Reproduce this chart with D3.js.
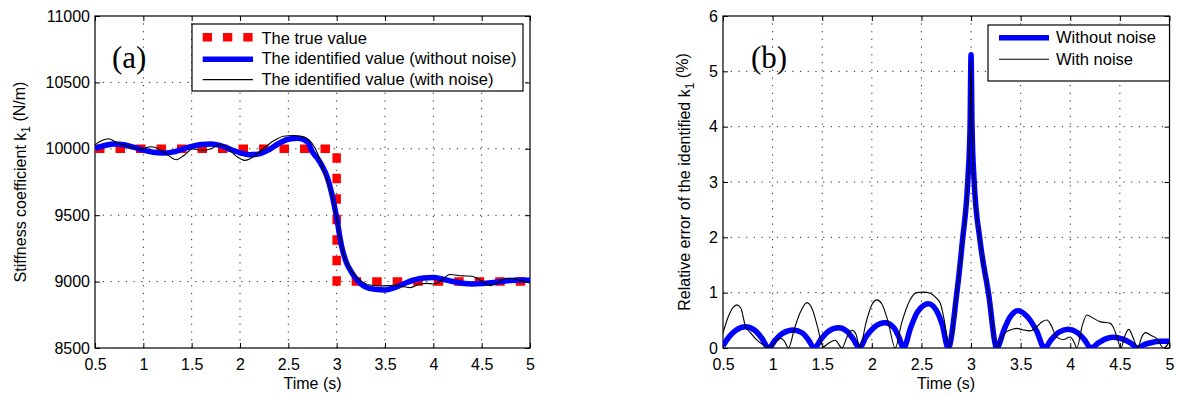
<!DOCTYPE html>
<html>
<head>
<meta charset="utf-8">
<script src="https://cdn.jsdelivr.net/npm/d3@7/dist/d3.min.js"></script>
<style>
  html, body { margin: 0; padding: 0; background: #fff; }
  svg text { font-family: "Liberation Sans", Arial, Helvetica, sans-serif; fill: #000; }
</style>
</head>
<body>
<svg id="chart" width="1178" height="396"></svg>
<script>
// ---- data ----
const timeTicks = [0.5, 1, 1.5, 2, 2.5, 3, 3.5, 4, 4.5, 5];
const stiffTicks = [8500, 9000, 9500, 10000, 10500, 11000];
const errTicks = [0, 1, 2, 3, 4, 5, 6];

// true stiffness k1 (N/m): step change at t = 3 s
const trueTime = [0.5, 3, 3, 5];
const trueK = [10000, 10000, 9000, 9000];

// identified k1 without noise
const idTime = [0.5, 0.6, 0.7, 0.8, 0.9, 1.0, 1.1, 1.2, 1.3, 1.4, 1.5, 1.6, 1.7, 1.8, 1.9,
  2.0, 2.1, 2.2, 2.3, 2.4, 2.5, 2.6, 2.7, 2.75, 2.8, 2.85, 2.9, 2.95, 3.0, 3.05, 3.1, 3.15,
  3.2, 3.3, 3.4, 3.5, 3.6, 3.7, 3.8, 3.9, 4.0, 4.1, 4.2, 4.3, 4.4, 4.5, 4.6, 4.7, 4.8, 4.9, 5.0];
const idK = [10003, 10025, 10037, 10031, 10012, 9990, 9974, 9968, 9975, 9996, 10018, 10033, 10036, 10024, 9996,
  9970, 9955, 9962, 9993, 10040, 10072, 10080, 10050, 9975, 9930, 9870, 9790, 9660, 9480, 9270, 9145, 9075,
  9022, 8960, 8942, 8937, 8955, 8985, 9012, 9028, 9030, 9018, 9001, 8988, 8982, 8985, 8992, 9001, 9009, 9012, 9011];

// identified k1 with noise
const noisyTime = [0.5, 0.55, 0.64, 0.72, 0.8, 0.9, 0.97, 1.08, 1.16, 1.25, 1.34, 1.42, 1.51, 1.62, 1.7,
  1.8, 1.88, 1.96, 2.05, 2.15, 2.24, 2.35, 2.45, 2.55, 2.62, 2.69, 2.78, 2.86, 2.93, 2.97, 3.02,
  3.07, 3.17, 3.26, 3.36, 3.46, 3.6, 3.76, 3.86, 3.93, 4.0, 4.07, 4.17, 4.3, 4.4, 4.47, 4.51,
  4.59, 4.68, 4.76, 4.87, 4.94, 5.0];
const noisyK = [10030, 10055, 10076, 10050, 10028, 10008, 9998, 10016, 9999, 9955, 9918, 9950, 9998, 9988, 10000,
  10032, 9999, 9945, 9913, 9945, 10000, 10060, 10095, 10100, 10095, 10080, 10000, 9850, 9700, 9590, 9390,
  9215, 9062, 9000, 8973, 8968, 8972, 8955, 8982, 8987, 8982, 9000, 9054, 9043, 9040, 9018, 9000,
  8970, 9000, 9025, 9016, 9000, 8990];

// relative error of identified k1 (%), without noise
const errTime = [0.5, 0.56, 0.63, 0.725, 0.82, 0.89, 0.96, 1.03, 1.1, 1.21, 1.3, 1.36, 1.42,
  1.49, 1.56, 1.665, 1.75, 1.81, 1.876, 1.94, 2.02, 2.135, 2.22, 2.27, 2.32,
  2.39, 2.46, 2.57, 2.65, 2.71, 2.77, 2.857, 2.914, 2.968, 2.99, 3.0, 3.01, 3.03, 3.09, 3.175, 3.26,
  3.33, 3.39, 3.47, 3.57, 3.66, 3.74, 3.81, 3.88, 3.98, 4.07, 4.14, 4.21,
  4.28, 4.35, 4.43, 4.53, 4.61, 4.68, 4.75, 4.82, 4.9, 5.0];
const errK = [0.04, 0.2, 0.32, 0.385, 0.32, 0.18, 0, 0.15, 0.265, 0.325, 0.27, 0.15, 0,
  0.165, 0.3, 0.367, 0.3, 0.17, 0, 0.2, 0.37, 0.457, 0.37, 0.21, 0,
  0.36, 0.65, 0.8, 0.68, 0.42, 0, 1.0, 1.95, 3.05, 4.0, 5.3, 4.0, 3.05, 1.95, 1.0, 0,
  0.32, 0.55, 0.675, 0.56, 0.31, 0, 0.155, 0.28, 0.337, 0.28, 0.155, 0,
  0.088, 0.16, 0.193, 0.16, 0.088, 0, 0.065, 0.1, 0.12, 0.12];

// relative error of identified k1 (%), with noise
const errNoisyTime = [0.5, 0.55, 0.6, 0.64, 0.68, 0.725, 0.78, 0.84, 0.92, 0.97, 1.02, 1.077, 1.12, 1.16,
  1.22, 1.28, 1.346, 1.4, 1.45, 1.51, 1.56, 1.63, 1.7, 1.75, 1.8, 1.84, 1.88, 1.94, 2.0, 2.05, 2.1,
  2.16, 2.236, 2.3, 2.38, 2.45, 2.52, 2.59, 2.64, 2.69, 2.73, 2.78, 2.857, 2.914, 2.968, 2.99, 3.0,
  3.01, 3.03, 3.09, 3.175, 3.26, 3.31, 3.36, 3.42, 3.46, 3.52, 3.595, 3.66, 3.72, 3.764, 3.81, 3.86,
  3.93, 4.0, 4.04, 4.066, 4.12, 4.167, 4.23, 4.3, 4.36, 4.4, 4.44, 4.47, 4.51, 4.55, 4.59, 4.63,
  4.68, 4.72, 4.76, 4.82, 4.87, 4.94, 5.0];
const errNoisyK = [0.27, 0.55, 0.73, 0.78, 0.72, 0.4, 0.27, 0.145, 0.04, 0, 0.1, 0.175, 0.12, 0,
  0.35, 0.65, 0.82, 0.7, 0.4, 0.02, 0.08, 0.14, 0, 0.2, 0.32, 0.25, 0, 0.45, 0.78, 0.87, 0.8,
  0.5, 0, 0.45, 0.85, 1.0, 1.01, 0.99, 0.92, 0.81, 0.5, 0, 1.0, 1.95, 3.0, 4.0, 5.2,
  4.0, 3.0, 1.95, 1.0, 0, 0.2, 0.295, 0.34, 0.355, 0.33, 0.31, 0.38, 0.48, 0.506, 0.4, 0.2,
  0.15, 0.2, 0.1, 0, 0.4, 0.597, 0.54, 0.477, 0.46, 0.45, 0.35, 0.2, 0, 0.22, 0.337, 0.2,
  0, 0.2, 0.277, 0.22, 0.175, 0, 0.115];

// ---- drawing ----
const svg = d3.select("#chart");
const fmt = d => String(d);

function panel(opts) {
  const { left, right, top, bottom, yDomain, yTicks, id } = opts;
  const x = d3.scaleLinear().domain([0.5, 5]).range([left, right]);
  const y = d3.scaleLinear().domain(yDomain).range([bottom, top]);
  const g = svg.append("g");

  svg.append("clipPath").attr("id", id)
    .append("rect").attr("x", left).attr("y", top)
    .attr("width", right - left).attr("height", bottom - top);

  // dotted grid
  const grid = g.append("g").attr("stroke", "#222").attr("stroke-width", 1)
    .attr("stroke-dasharray", "1.2,6.5");
  timeTicks.slice(1, -1).forEach(t => {
    grid.append("line").attr("x1", x(t)).attr("x2", x(t)).attr("y1", bottom).attr("y2", top);
  });
  yTicks.slice(1, -1).forEach(v => {
    grid.append("line").attr("x1", left).attr("x2", right).attr("y1", y(v)).attr("y2", y(v));
  });

  // axes with inward ticks, mirrored on top and right
  const fs = "16px";
  const ax = g.append("g").attr("transform", `translate(0,${bottom})`)
    .call(d3.axisBottom(x).tickValues(timeTicks).tickFormat(fmt).tickSize(-5).tickSizeOuter(0).tickPadding(11));
  const ay = g.append("g").attr("transform", `translate(${left},0)`)
    .call(d3.axisLeft(y).tickValues(yTicks).tickFormat(fmt).tickSize(-5).tickSizeOuter(0).tickPadding(5));
  const at = g.append("g").attr("transform", `translate(0,${top})`)
    .call(d3.axisTop(x).tickValues(timeTicks).tickFormat("").tickSize(-5).tickSizeOuter(0));
  const ar = g.append("g").attr("transform", `translate(${right},0)`)
    .call(d3.axisRight(y).tickValues(yTicks).tickFormat("").tickSize(-5).tickSizeOuter(0));
  [ax, ay, at, ar].forEach(a => {
    a.select(".domain").remove();
    a.selectAll("line").attr("stroke", "#000");
    a.selectAll("text").attr("font-size", fs).attr("fill", "#000")
      .style("font-family", '"Liberation Sans", Arial, sans-serif');
  });

  g.append("rect").attr("x", left).attr("y", top)
    .attr("width", right - left).attr("height", bottom - top)
    .attr("fill", "none").attr("stroke", "#000").attr("stroke-width", 1.2);

  const plot = svg.append("g").attr("clip-path", `url(#${id})`);
  return { x, y, g, plot };
}

function series(times, values) {
  return times.map((t, i) => [t, values[i]]);
}

// ===== panel (a): stiffness =====
const A = panel({ id: "clipA", left: 95, right: 530, top: 16, bottom: 348,
  yDomain: [8500, 11000], yTicks: stiffTicks });

const lineA = d3.line().x(d => A.x(d[0])).y(d => A.y(d[1]));
const smoothA = d3.line().x(d => A.x(d[0])).y(d => A.y(d[1])).curve(d3.curveMonotoneX);

A.plot.append("path").attr("d", lineA(series(trueTime, trueK)))
  .attr("fill", "none").attr("stroke", "#ff0000").attr("stroke-width", 8.5)
  .attr("stroke-dasharray", "9.5,11");
A.plot.append("path").attr("d", smoothA(series(idTime, idK)))
  .attr("fill", "none").attr("stroke", "#0000ff").attr("stroke-width", 5.5);
A.plot.append("path").attr("d", smoothA(series(noisyTime, noisyK)))
  .attr("fill", "none").attr("stroke", "#000").attr("stroke-width", 1.1);

// panel label
svg.append("text").attr("x", 112).attr("y", 68)
  .style("font-family", '"Liberation Serif", "DejaVu Serif", serif')
  .attr("font-size", "31px").text("(a)");

// axis titles
svg.append("text").attr("x", 312.5).attr("y", 389).attr("text-anchor", "middle")
  .attr("font-size", "16px").text("Time (s)");
const yla = svg.append("text").attr("transform", "translate(26,182) rotate(-90)")
  .attr("text-anchor", "middle").attr("font-size", "16px");
yla.append("tspan").text("Stiffness coefficient k");
yla.append("tspan").attr("dy", "0.35em").attr("font-size", "12px").text("1");
yla.append("tspan").attr("dy", "-0.35em").text(" (N/m)");

// legend (a)
const legA = svg.append("g");
legA.append("rect").attr("x", 192).attr("y", 24).attr("width", 331).attr("height", 67)
  .attr("fill", "#fff").attr("stroke", "#000").attr("stroke-width", 1.2);
legA.append("line").attr("x1", 202.7).attr("x2", 253).attr("y1", 37.3).attr("y2", 37.3)
  .attr("stroke", "#ff0000").attr("stroke-width", 8.5).attr("stroke-dasharray", "9.3,11");
legA.append("line").attr("x1", 202.7).attr("x2", 253).attr("y1", 59.2).attr("y2", 59.2)
  .attr("stroke", "#0000ff").attr("stroke-width", 5.5);
legA.append("line").attr("x1", 202.7).attr("x2", 253).attr("y1", 79.6).attr("y2", 79.6)
  .attr("stroke", "#000").attr("stroke-width", 1.1);
[["The true value", 43.6], ["The identified value (without noise)", 64.4], ["The identified value (with noise)", 84.8]]
  .forEach(([s, yy]) => legA.append("text").attr("x", 261.5).attr("y", yy).attr("font-size", "16.5px").text(s));

// ===== panel (b): relative error =====
const B = panel({ id: "clipB", left: 723, right: 1169.5, top: 16, bottom: 348,
  yDomain: [0, 6], yTicks: errTicks });

const smoothB = d3.line().x(d => B.x(d[0])).y(d => B.y(d[1])).curve(d3.curveMonotoneX);
B.plot.append("path").attr("d", smoothB(series(errTime, errK)))
  .attr("fill", "none").attr("stroke", "#0000ff").attr("stroke-width", 5.5)
  .attr("stroke-linejoin", "round");
B.plot.append("path").attr("d", smoothB(series(errNoisyTime, errNoisyK)))
  .attr("fill", "none").attr("stroke", "#000").attr("stroke-width", 1.1);

svg.append("text").attr("x", 751).attr("y", 68)
  .style("font-family", '"Liberation Serif", "DejaVu Serif", serif')
  .attr("font-size", "31px").text("(b)");

svg.append("text").attr("x", 946).attr("y", 389).attr("text-anchor", "middle")
  .attr("font-size", "16px").text("Time (s)");
const ylb = svg.append("text").attr("transform", "translate(689.5,182) rotate(-90)")
  .attr("text-anchor", "middle").attr("font-size", "16px");
ylb.append("tspan").text("Relative error of the identified k");
ylb.append("tspan").attr("dy", "0.35em").attr("font-size", "12px").text("1");
ylb.append("tspan").attr("dy", "-0.35em").text(" (%)");

// legend (b)
const legB = svg.append("g");
legB.append("rect").attr("x", 988).attr("y", 25).attr("width", 181.5).attr("height", 56)
  .attr("fill", "#fff").attr("stroke", "#000").attr("stroke-width", 1.2);
legB.append("line").attr("x1", 999).attr("x2", 1049).attr("y1", 37.7).attr("y2", 37.7)
  .attr("stroke", "#0000ff").attr("stroke-width", 5.5);
legB.append("line").attr("x1", 999).attr("x2", 1049).attr("y1", 59.3).attr("y2", 59.3)
  .attr("stroke", "#000").attr("stroke-width", 1.1);
[["Without noise", 43.4], ["With noise", 64.8]]
  .forEach(([s, yy]) => legB.append("text").attr("x", 1056).attr("y", yy).attr("font-size", "16.5px").text(s));
</script>
</body>
</html>
